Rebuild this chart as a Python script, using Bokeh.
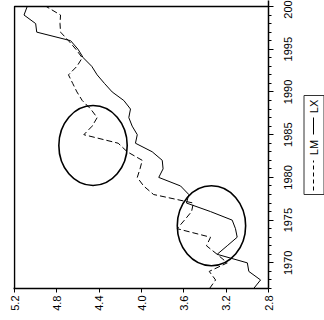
import math
from bokeh.plotting import figure
from bokeh.models import (Range1d, FixedTicker, SingleIntervalTicker, PrintfTickFormatter,
                          CustomJSTickFormatter)
from bokeh.layouts import row
from bokeh.core.properties import value
from bokeh.embed import file_html
from bokeh.resources import INLINE

# ---- data ----
years = list(range(1967, 2001))
lx = [2.94, 2.875, 2.986, 3.00, 3.285, 3.19, 3.096, 3.112, 3.143, 3.348,
      3.575, 3.553, 3.631, 3.837, 3.796, 3.804, 3.899, 4.057, 4.04, 4.088,
      4.12, 4.104, 4.167, 4.277, 4.35, 4.419, 4.47, 4.55, 4.60, 4.67,
      4.99, 5.00, 5.11, 5.08]
lm = [3.357, 3.30, 3.36, 3.19, 3.285, 3.386, 3.348, 3.663, 3.594, 3.527,
      3.51, 3.886, 3.98, 4.04, 4.014, 3.993, 4.135, 4.22, 4.545, 4.466,
      4.419, 4.48, 4.56, 4.61, 4.65, 4.69, 4.61, 4.56, 4.62, 4.69,
      4.765, 4.77, 4.765, 4.90]
value_ticks = [2.8, 3.2, 3.6, 4.0, 4.4, 4.8, 5.2]
year_ticks = [1970, 1975, 1980, 1985, 1990, 1995, 2000]
year_labels = ["1970", "1975", "1980", "1985", "1990", "1995", "2000"]
series_names = ["LM", "LX"]
# circled episodes (centre value, centre year)
circle_x = [4.458, 3.339]
circle_y = [1983.73, 1974.34]
circle_w = 0.646
circle_h = 9.36

FONT = "Liberation Sans"
X_LO, X_HI = 2.8, 5.2
Y_LO, Y_HI = 1967, 2000
H = 320
MAIN_W = 274
SIDE_W = 324 - MAIN_W
BOTTOM = 32
TOP_GAP = 6                      # px between image top and the box top
FRAME_H = H - BOTTOM
k = (FRAME_H - TOP_GAP) / (Y_HI - Y_LO)      # px per year
ppu = 254 / (X_HI - X_LO)                    # px per value unit
y_range = Range1d(Y_LO, Y_HI + TOP_GAP / k)  # frame reaches the top so labels may overhang
x_range = Range1d(X_HI + 1 / ppu, X_LO)

p = figure(width=MAIN_W, height=H, title=None,
           x_range=x_range, y_range=y_range,
           y_axis_location="right",
           output_backend="svg", toolbar_location=None,
           min_border_left=13, min_border_right=6,
           min_border_top=0, min_border_bottom=BOTTOM)
p.background_fill_color = "white"
p.border_fill_color = "white"
p.xgrid.visible = False
p.ygrid.visible = False
p.outline_line_color = None

# bottom (value) axis
xa = p.xaxis[0]
xa.ticker = FixedTicker(ticks=value_ticks)
xa.formatter = PrintfTickFormatter(format="%.1f")
xa.major_label_orientation = math.pi / 2
xa.major_tick_in = 0
xa.major_tick_out = 4
xa.minor_tick_in = 0
xa.minor_tick_out = 0
xa.major_label_standoff = 3
xa.axis_line_color = "black"
xa.axis_line_width = 1.5
xa.major_tick_line_color = "black"
xa.major_label_text_font = FONT
xa.major_label_text_font_size = "11px"
xa.major_label_text_color = "black"

# right (year) axis: ticks only; labels are set in the side panel
ya = p.yaxis[0]
ya.ticker = SingleIntervalTicker(interval=5, num_minor_ticks=5)
ya.formatter = CustomJSTickFormatter(code="return ''")
ya.major_label_text_font_size = "0px"
ya.major_label_standoff = 0
ya.major_tick_in = 0
ya.major_tick_out = 5
ya.minor_tick_in = 0
ya.minor_tick_out = 3
ya.axis_line_color = "black"
ya.axis_line_width = 1.5
ya.major_tick_line_color = "black"
ya.minor_tick_line_color = "black"

# plot box (top and left edges; bottom/right come from the axes)
p.line(x=[X_LO, X_HI, X_HI], y=[Y_HI, Y_HI, Y_LO], line_color="black", line_width=1.5)

p.line(x=lm, y=years, line_color="black", line_width=1, line_dash="6 3")
p.line(x=lx, y=years, line_color="black", line_width=1)
p.ellipse(x=circle_x, y=circle_y, width=circle_w, height=circle_h,
          fill_color=None, line_color="black", line_width=1.6)

# side panel: year labels (shared year scale) + legend
side = figure(width=SIDE_W, height=H, title=None,
              x_range=Range1d(0, SIDE_W), y_range=y_range,
              output_backend="svg", toolbar_location=None,
              x_axis_location=None, y_axis_location=None, min_border=0)
side.xgrid.visible = False
side.ygrid.visible = False
side.outline_line_color = None
side.background_fill_color = "white"
side.border_fill_color = "white"

side.text(x=[13.5] * len(year_ticks), y=year_ticks, text=year_labels,
          angle=math.pi / 2, text_align="center", text_baseline="middle",
          text_font=value(FONT), text_font_size="11px", text_color="black")


def sy(px):
    """screen row (px from top) -> year units of the shared scale"""
    return Y_HI + (TOP_GAP - px) / k


side.quad(left=29.5, right=49.5, bottom=sy(194), top=sy(95),
          fill_color=None, line_color="#333333", line_width=1)
side.line(x=[39, 39], y=[sy(190), sy(160)], line_color="black",
          line_width=1, line_dash="4 3")
side.text(x=[39.5], y=[sy(147)], text=[series_names[0]], angle=math.pi / 2,
          text_align="center", text_baseline="middle",
          text_font=value(FONT), text_font_size="11px", text_color="black")
side.line(x=[39, 39], y=[sy(134), sy(117)], line_color="black", line_width=1)
side.text(x=[39.5], y=[sy(106)], text=[series_names[1]], angle=math.pi / 2,
          text_align="center", text_baseline="middle",
          text_font=value(FONT), text_font_size="11px", text_color="black")

layout = row(p, side, spacing=0)
open("out.html", "w").write(file_html(layout, INLINE))
